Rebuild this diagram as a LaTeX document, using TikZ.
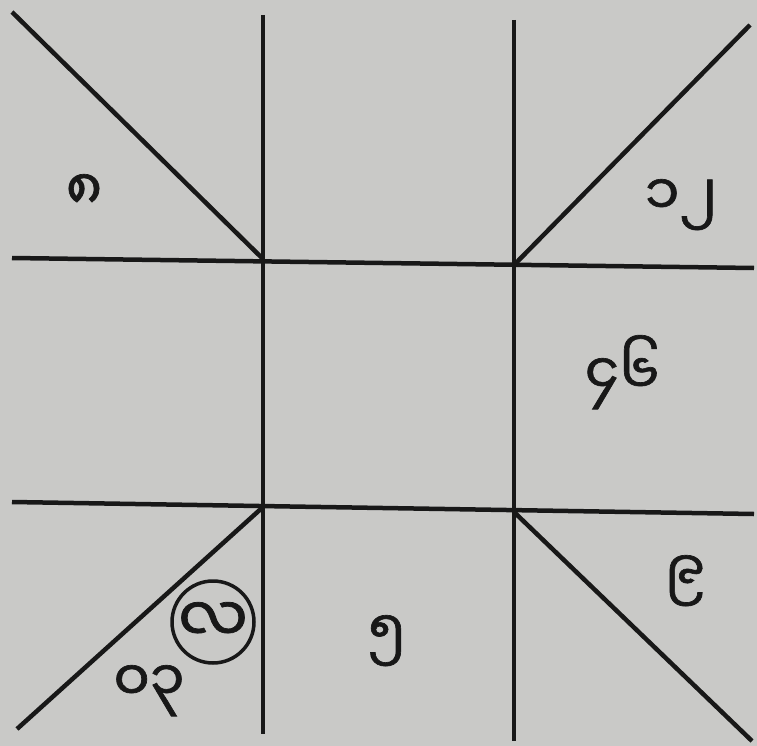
\documentclass[tikz,border=0pt]{standalone}
\usepackage{fontspec}
\newfontfamily\mmfont[Script=Myanmar,FakeBold=1.2]{Noto Sans Myanmar UI}
\definecolor{paper}{RGB}{201,201,199}
\definecolor{ink}{RGB}{24,24,24}
\begin{document}
\begin{tikzpicture}[x=1pt,y=-1pt,
  gridline/.style={draw=ink,line width=4.5pt},
  diagline/.style={draw=ink,line width=4.5pt},
  lbl/.style={font=\mmfont\fontsize{56}{60}\selectfont,text=ink,inner sep=0pt,anchor=base},
  lagna/.style={draw=ink,line width=3.5pt,circle,minimum size=82pt,inner sep=0pt,
    font=\mmfont\fontsize{62}{66}\selectfont,text=ink}]
\fill[paper] (0,0) rectangle (757,746);
\useasboundingbox (0,0) rectangle (757,746);
% end points
\coordinate (t1) at (263,15);  \coordinate (b1) at (263,734);
\coordinate (t2) at (514,20);  \coordinate (b2) at (514,741);
\coordinate (l1) at (12,258);  \coordinate (r1) at (754,268);
\coordinate (l2) at (12,502);  \coordinate (r2) at (754,514);
\coordinate (d1) at (12,12);   \coordinate (d2) at (750,25);
\coordinate (d3) at (17,729);  \coordinate (d4) at (752,741);
% crossings
\coordinate (A) at (263,259);  \coordinate (B) at (514,265);
\coordinate (C) at (263,507);  \coordinate (D) at (514,512);
% grid
\draw[gridline] (t1) -- (b1);
\draw[gridline] (t2) -- (b2);
\draw[gridline] (l1) -- (r1);
\draw[gridline] (l2) -- (r2);
% corner diagonals
\draw[diagline] (d1) -- (A);
\draw[diagline] (B) -- (d2);
\draw[diagline] (C) -- (d3);
\draw[diagline] (D) -- (d4);
% labels
\node[lbl] (p8) at (84,210) {၈};
\node[lbl] (p12) at (681,215) {၁၂};
\node[lbl] (p46) at (622,394) {၄၆};
\node[lbl] (p9) at (685,591) {၉};
\node[lbl] (p5) at (387,651) {၅};
\node[lbl] (p03) at (149,701) {၀၃};
\node[lagna] (lag) at (213,622) {လ};
\end{tikzpicture}
\end{document}
